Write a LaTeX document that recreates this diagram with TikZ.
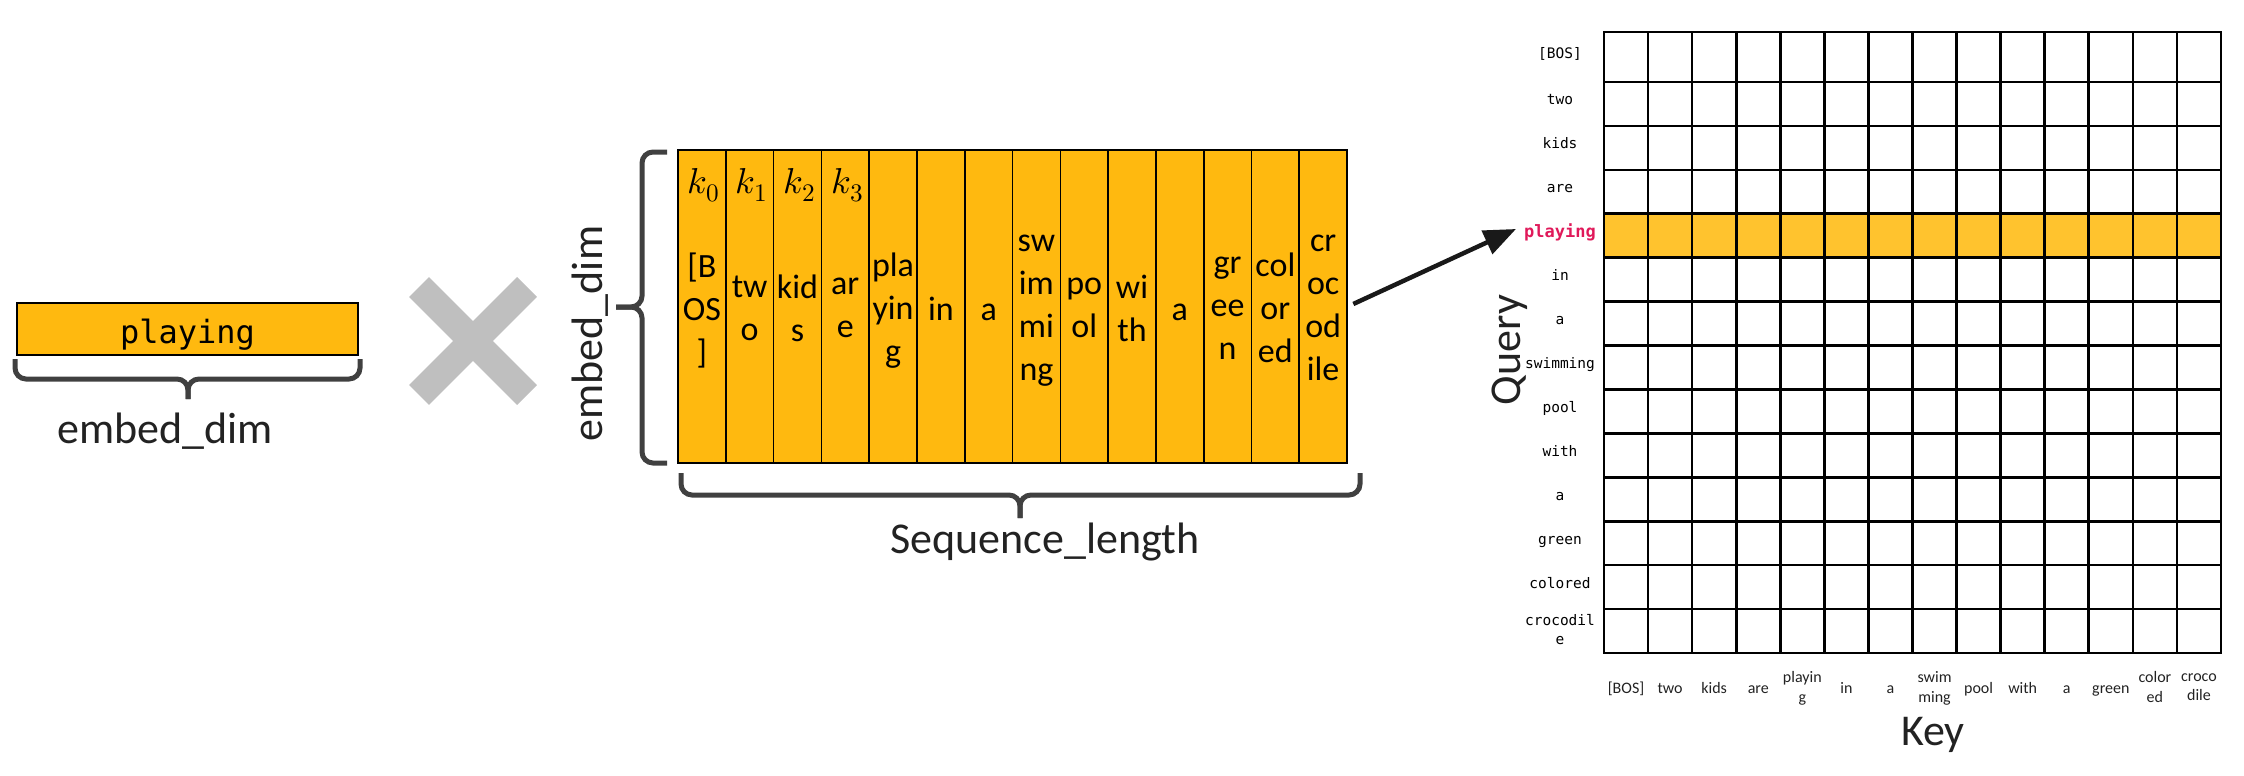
\documentclass[tikz,border=0pt]{standalone}
\usepackage{fontspec}
\usepackage{unicode-math}
\setmainfont{Carlito}
\newfontfamily\monof{DejaVu Sans Mono}
\usetikzlibrary{arrows.meta}
\definecolor{orng}{HTML}{FFB90F}
\definecolor{hilite}{HTML}{FFC32E}
\definecolor{qred}{HTML}{E0195A}
\definecolor{bracec}{HTML}{404040}
\definecolor{xgray}{HTML}{BFBFBF}
\definecolor{txt}{HTML}{222222}
\tikzset{
  vecbox/.style={draw=black, line width=2pt, fill=orng, minimum width=341pt, minimum height=52pt, inner sep=0pt},
  colbox/.style={draw=black, line width=1.6pt, fill=orng, minimum width=47.79pt, minimum height=313pt, inner sep=0pt},
  brc/.style={draw=bracec, line width=5pt, rounded corners=11pt, line cap=butt},
  xarm/.style={draw=xgray, line width=28pt, line cap=butt},
  arr/.style={draw=black!90, line width=4.5pt, -{Triangle[length=32pt,width=25pt]}},
  gridl/.style={draw=black, line width=2.6pt, line cap=rect},
  bigl/.style={font=\fontsize{44}{52}\selectfont, text=txt, inner sep=0pt},
  wlab/.style={font=\fontsize{34}{43}\selectfont, align=center, inner sep=0pt, text=black,
    execute at begin node={\rule{0pt}{24pt}}, execute at end node={\rule[-8pt]{0pt}{8pt}}},
  ktag/.style={font=\fontsize{36}{40}\selectfont, anchor=base, inner sep=0pt, text=black},
  qlab/.style={font=\monof\fontsize{14.5}{19}\selectfont, align=center, inner sep=0pt, text=black,
    execute at begin node={\rule{0pt}{11pt}}, execute at end node={\rule[-3pt]{0pt}{3pt}}},
  klab/.style={font=\fontsize{16}{19.5}\selectfont, align=center, inner sep=0pt, text=txt,
    execute at begin node={\rule{0pt}{12pt}}, execute at end node={\rule[-4pt]{0pt}{4pt}}},
}
\begin{document}
\begin{tikzpicture}[x=1pt,y=-1pt]
\useasboundingbox (0,0) rectangle (2244,776);
% ---- left vector ----
\node[vecbox] (vec) at (187.5,329) {};
\node[anchor=base, inner sep=0pt, font=\monof\fontsize{32}{38}\selectfont] (vectxt) at (187.5,343) {playing};
\draw[brc] (15,359) |- (188,379) -- (188,399);
\draw[brc] (360,359) |- (188,379) -- (188,399);
\node[bigl, anchor=base] (vecdim) at (165,443) {embed\_dim};
% ---- multiply sign ----
\draw[xarm] (419,395) -- (527,287);
\draw[xarm] (419,287) -- (527,395);
% ---- key matrix ----
\foreach \w [count=\j from 0] in {{[B\\OS\\]},{tw\\o},{kid\\s},{ar\\e},{pla\\yin\\g},{in},{a},{sw\\im\\mi\\ng},{po\\ol},{wi\\th},{a},{gr\\ee\\n},{col\\or\\ed},{cr\\oc\\od\\ile}}{
  \node[colbox] (c\j) at ({678+(\j+0.5)*47.79},306.5) {};
  \node[wlab] (w\j) at ({678+(\j+0.5)*47.79},312) {\w};
}
\foreach \k in {0,...,3}{
  \node[ktag] (k\k) at ({678+(\k+0.5)*47.79+2},193) {$k_{\k}$};
}
\draw[brc] (667,152) -| (642,307) -- (616,307);
\draw[brc] (667,463) -| (642,307) -- (616,307);
\node[bigl, anchor=base, rotate=90] (matdim) at (602,333.5) {embed\_dim};
\draw[brc] (681,473) |- (1020,495) -- (1020,518);
\draw[brc] (1360,473) |- (1020,495) -- (1020,518);
\node[bigl, anchor=base] (seqlen) at (1045,553) {Sequence\_length};
% ---- attention grid ----
\fill[hilite] (1604,{82+3*43.92}) rectangle (2221,{82+4*43.92});
\foreach \j in {0,...,14}{
  \draw[gridl] ({1604+\j*44.07},32) -- ({1604+\j*44.07},653);
}
\draw[gridl] (1604,32) -- (2221,32);
\foreach \i in {1,...,14}{
  \draw[gridl] (1604,{82+(\i-1)*43.92}) -- (2221,{82+(\i-1)*43.92});
}
\node[qlab] (q0) at (1560,54) {[BOS]};
\foreach \t [count=\i from 1] in {{two},{kids},{are},{\fontsize{17}{19}\selectfont\bfseries\color{qred}playing},{in},{a},{swimming},{pool},{with},{a},{green},{colored}}{
  \node[qlab] (q\i) at (1560,{82+(\i-0.5)*43.92-3}) {\t};
}
\node[qlab] (q13) at (1560,{82+12.5*43.92}) {crocodil\\e};
\foreach \t [count=\j from 0] in {{[BOS]},{two},{kids},{are},{playin\\g},{in},{a},{swim\\ming},{pool},{with},{a},{green},{color\\ed},{croco\\dile}}{
  \node[klab] (kl\j) at ({1604+(\j+0.5)*44.07},689) {\t};
}
\node[bigl, anchor=base, rotate=90] (query) at (1520,350) {Query};
\node[bigl, anchor=base] (keyl) at (1933,745) {Key};
% ---- arrow ----
\coordinate (tip) at (1516,229);
\draw[arr, shorten <=6pt] (c13.east) -- (tip);
\end{tikzpicture}
\end{document}
